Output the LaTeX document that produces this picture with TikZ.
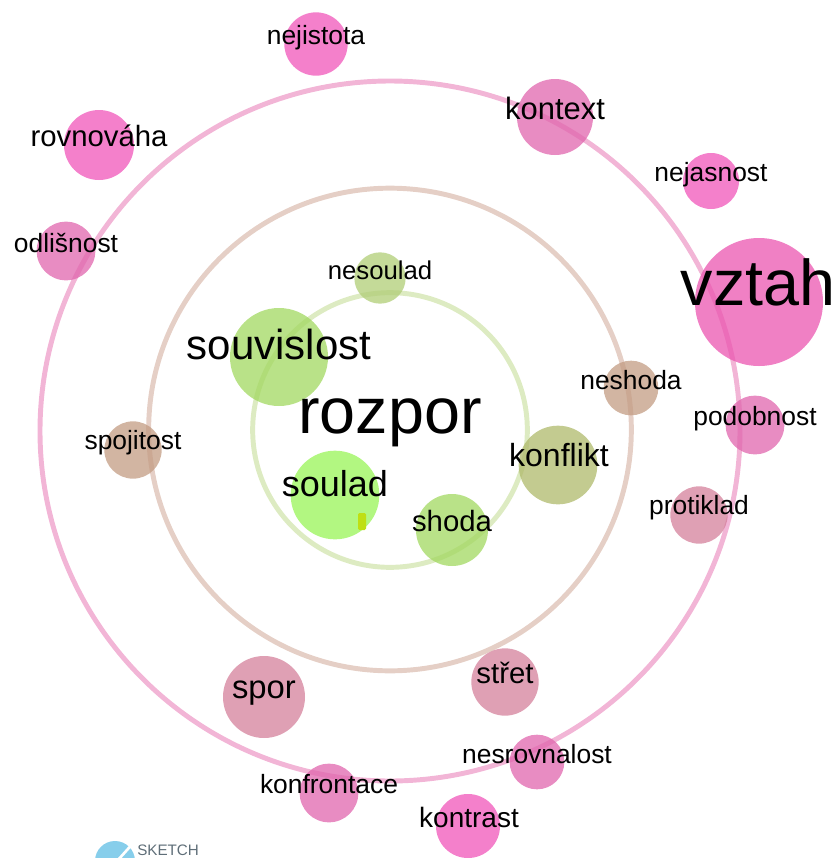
\documentclass[tikz,border=0pt]{standalone}
\usepackage{fontspec}
\setmainfont{Liberation Sans}
\usetikzlibrary{positioning}
\definecolor{pinkring}{HTML}{F2B5D6}
\definecolor{brownring}{HTML}{E5CFC6}
\definecolor{greenring}{HTML}{DDEBC2}
\definecolor{pinkdot}{HTML}{EB55B0}
\definecolor{magentadot}{HTML}{F055B9}
\definecolor{rosedot}{HTML}{E065AD}
\definecolor{browndot}{HTML}{C39C83}
\definecolor{dustdot}{HTML}{D4809B}
\definecolor{olivedot}{HTML}{AFB96B}
\definecolor{nesouladcol}{HTML}{B0CD76}
\definecolor{limedot}{HTML}{B2F781}
\definecolor{leafdot}{HTML}{A2D860}
\definecolor{sketchblue}{HTML}{87CEEB}
\definecolor{sketchgray}{HTML}{5F6E78}
\tikzset{>=latex}
\tikzset{
	ring/.style={draw,circle,line width=3.7pt,inner sep=0pt},
	dot/.style={circle,draw=none,inner sep=0pt,fill opacity=0.75,text opacity=1},
	word/.style={inner sep=0pt,text=black},
	small/.style={word,font=\fontsize{19.8}{19.8}\selectfont},
	medium/.style={word,font=\fontsize{22}{22}\selectfont},
	large/.style={word,font=\fontsize{31.5}{31.5}\selectfont},
	huge/.style={word,font=\fontsize{48.5}{48.5}\selectfont}
}
\begin{document}
\begin{tikzpicture}[x=0.75pt,y=-0.75pt]
		\useasboundingbox (0,0) rectangle (838,858);
		\clip (0,0) rectangle (838,858);
		
		% rings
		\node[ring,draw=pinkring,minimum size=525pt] (outerring) at (390,431) {};
		\node[ring,draw=brownring,minimum size=362pt] (middlering) at (390,429.5) {};
		\node[ring,draw=greenring,minimum size=206pt] (innerring) at (390,430) {};
		
		% outer words
		\node[dot,fill=magentadot,minimum size=47.5pt] (nejistotadot) at (316,44) {};
		\node[dot,fill=magentadot,minimum size=52.5pt] (rovnovahadot) at (99,145) {};
		\node[dot,fill=rosedot,minimum size=57pt] (kontextdot) at (555,117) {};
		\node[dot,fill=magentadot,minimum size=42pt] (nejasnostdot) at (711,181) {};
		\node[dot,fill=rosedot,minimum size=44pt] (odlisnostdot) at (66,251) {};
		\node[dot,fill=pinkdot,minimum size=96pt] (vztahdot) at (759,302) {};
		\node[dot,fill=rosedot,minimum size=44pt] (podobnostdot) at (755,425) {};
		\node[dot,fill=dustdot,minimum size=43pt] (protikladdot) at (699,515) {};
		\node[dot,fill=rosedot,minimum size=41pt] (nesrovnalostdot) at (537,762) {};
		\node[dot,fill=magentadot,minimum size=48pt] (kontrastdot) at (468,826) {};
		\node[dot,fill=rosedot,minimum size=44pt] (konfrontacedot) at (329,793) {};
		
		% middle words
		\node[dot,fill=browndot,minimum size=41pt] (neshodadot) at (631,388) {};
		\node[dot,fill=browndot,minimum size=43pt] (spojitostdot) at (133,450) {};
		\node[dot,fill=dustdot,minimum size=61.5pt] (spordot) at (264,697) {};
		\node[dot,fill=dustdot,minimum size=50.5pt] (stretdot) at (505,682) {};
		
		% inner words
		\node[dot,fill=nesouladcol,minimum size=38.5pt] (nesouladdot) at (380,278) {};
		\node[dot,fill=leafdot,minimum size=73.5pt] (souvislostdot) at (279,357) {};
		\node[dot,fill=olivedot,minimum size=59pt] (konfliktdot) at (558,465) {};
		\node[dot,fill=limedot,fill opacity=1,minimum size=66.5pt] (souladdot) at (335,495) {};
		\node[dot,fill=leafdot,minimum size=54pt] (shodadot) at (452,530) {};
		\fill[fill=yellow!75!green,rounded corners=1pt] (358,513) rectangle (366,530);
		
		% logo at the lower edge
		\node[circle,fill=sketchblue,inner sep=0pt,minimum size=30pt] (logo) at (115,861) {};
		\draw[white,line width=2pt] (136,840) -- (118,860);
		\node[word,anchor=base west,text=sketchgray,font=\fontsize{11.4}{11.4}\selectfont] (sketch) at (137,855.5) {SKETCH};
		
		% labels
		\node[small] (nejistota) at (316,38) {nejistota};
		\node[medium] (rovnovaha) at (99,136) {rovnováha};
		\node[medium,font=\fontsize{23.2}{23.2}\selectfont] (kontext) at (555,108) {kontext};
		\node[small] (nejasnost) at (711,175) {nejasnost};
		\node[small] (odlisnost) at (66,243) {odlišnost};
		\node[huge] (vztah) at (758,282) {vztah};
		\node[small] (podobnost) at (755,419) {podobnost};
		\node[small] (protiklad) at (699,508) {protiklad};
		\node[small] (nesrovnalost) at (537,754) {nesrovnalost};
		\node[medium,font=\fontsize{21}{21}\selectfont] (kontrast) at (469,817) {kontrast};
		\node[small] (konfrontace) at (329,784) {konfrontace};
		\node[small] (neshoda) at (631,380) {neshoda};
		\node[small] (spojitost) at (133,443) {spojitost};
		\node[medium,font=\fontsize{24.6}{24.6}\selectfont] (spor) at (264,693) {spor};
		\node[medium] (stret) at (505,673) {střet};
		\node[small,font=\fontsize{19.3}{19.3}\selectfont] (nesoulad) at (380,270) {nesoulad};
		\node[large] (souvislost) at (279,344) {souvislost};
		\node[medium,font=\fontsize{24}{24}\selectfont] (konflikt) at (559,455) {konflikt};
		\node[medium,font=\fontsize{27}{27}\selectfont] (soulad) at (335,484) {soulad};
		\node[medium] (shoda) at (452,521) {shoda};
		\node[huge] (rozpor) at (390,423) {rozpor};
\end{tikzpicture}
\end{document}
